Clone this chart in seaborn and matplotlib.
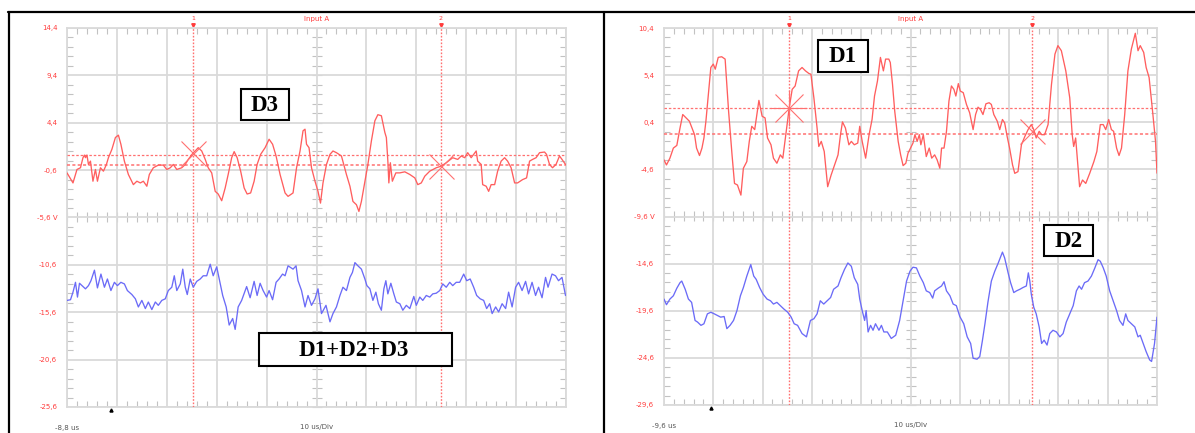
import numpy as np
import matplotlib
matplotlib.use("Agg")
import matplotlib.pyplot as plt
import matplotlib.transforms as mtrans
import seaborn as sns
import pandas as pd
from matplotlib.patches import Rectangle
from matplotlib.lines import Line2D
from matplotlib.ticker import FixedLocator

# ---------------- data (time in us, voltage in V) ----------------
d3_trace = [(-8.8,-0.89),(-7.6,-1.95),(-6.8,-0.53),(-6.1,-0.35),(-5.6,0.71),(-5.3,0.99),(-5.1,0.71),(-4.8,0.99),
    (-4.5,0.0),(-4.1,0.35),(-3.6,-1.77),(-3.1,-0.53),(-2.7,-1.77),(-2.1,-0.35),(-1.5,-0.71),(-0.9,0.0),(-0.5,0.71),
    (0.2,1.6),(0.9,2.84),(1.5,3.09),(2.0,2.13),(2.7,0.35),(3.5,-1.06),(4.5,-2.13),(5.2,-1.77),(5.9,-1.95),(6.5,-1.77),
    (7.2,-2.3),(7.7,-1.06),(8.5,-0.35),(9.5,-0.07),(10.5,-0.07),(11.2,-0.53),(11.9,-0.35),(12.5,0.0),(13.2,-0.53),
    (14.2,-0.35),(14.9,0.0),(15.5,0.53),(16.5,1.24),(16.9,1.42),(17.5,1.77),(18.2,1.42),(18.9,0.53),(19.5,-0.35),
    (20.2,-0.89),(20.9,-2.84),(21.5,-3.12),(22.2,-3.83),(22.9,-2.48),(23.5,-1.06),(24.2,0.71),(24.7,1.35),(25.3,0.71),
    (26.0,-0.71),(26.7,-2.48),(27.3,-3.12),(28.0,-3.01),(28.7,-1.77),(29.3,0.0),(30.0,1.06),(30.9,1.77),(31.7,2.66),
    (32.4,2.13),(33.1,0.89),(33.9,-1.06),(34.9,-3.01),(35.5,-3.37),(36.5,-3.01),(37.2,-0.35),(37.9,1.42),(38.5,3.55),
    (38.9,3.72),(39.2,2.13),(39.7,1.77),(40.2,-0.35),(40.9,-1.77),(41.5,-2.84),(42.0,-4.08),(42.5,-1.95),(43.2,0.0),
    (43.9,1.06),(44.5,1.42),(45.2,1.24),(46.2,0.89),(47.2,-1.06),(47.9,-2.3),(48.5,-3.9),(49.2,-4.25),(49.7,-4.96),
    (50.2,-3.9),(50.9,-1.77),(51.5,0.0),(52.2,2.48),(52.9,4.61),(53.5,5.25),(54.2,5.14),(54.9,3.37),(55.2,2.84),
    (55.5,0.35),(55.7,-1.95),(56.0,0.18),(56.4,-1.77),(57.1,-0.89),(57.9,-0.89),(58.9,-0.78),(59.9,-1.06),(60.9,-1.42),
    (61.5,-2.13),(62.2,-1.95),(62.9,-1.24),(63.9,-0.71),(65.2,-0.35),(66.2,-0.18),(67.2,0.18),(68.5,0.71),(69.5,0.53),
    (70.2,0.89),(70.9,0.71),(71.5,1.24),(72.2,0.71),(72.7,1.06),(73.2,1.42),(73.5,0.35),(74.2,0.0),(74.5,-2.13),
    (75.2,-2.3),(75.7,-2.84),(76.2,-2.13),(76.9,-2.13),(77.5,-0.71),(78.2,0.35),(78.9,0.71),(79.5,0.35),(80.2,-0.35),
    (80.9,-1.95),(81.5,-1.95),(82.5,-1.6),(83.3,-1.42),(83.9,0.35),(84.5,0.53),(85.2,0.71),(85.9,1.24),(86.9,1.31),
    (87.3,1.06),(87.9,0.0),(88.5,-0.35),(89.2,0.0),(89.9,0.89),(90.4,0.53),(91.1,0.0)]

sum_trace = [(-8.8,-14.35),(-8.1,-14.28),(-7.6,-13.48),(-7.1,-12.44),(-6.7,-14.0),(-6.3,-12.54),(-5.8,-12.79),
    (-5.1,-13.13),(-4.5,-12.79),(-4.0,-12.27),(-3.3,-11.16),(-2.7,-13.03),(-2.0,-11.57),(-1.3,-12.96),(-0.7,-12.09),
    (0.0,-13.31),(0.7,-12.44),(1.3,-12.79),(2.0,-12.44),(2.7,-12.61),(3.3,-13.31),(4.2,-13.73),(4.9,-14.18),(5.5,-15.04),
    (6.2,-14.35),(6.9,-15.21),(7.5,-14.52),(8.2,-15.32),(8.9,-14.52),(9.5,-14.87),(10.2,-14.35),(10.9,-14.18),
    (11.5,-13.31),(12.2,-12.96),(12.7,-11.75),(13.2,-13.31),(13.9,-12.61),(14.4,-11.05),(14.9,-12.96),(15.3,-13.73),
    (15.9,-12.09),(16.5,-12.96),(17.2,-12.34),(17.9,-12.09),(18.5,-11.75),(19.2,-11.75),(19.9,-10.53),(20.5,-11.75),
    (21.2,-10.81),(21.7,-12.09),(22.4,-13.83),(23.1,-15.04),(23.7,-16.95),(24.4,-16.26),(24.9,-17.41),(25.5,-15.04),
    (26.2,-14.35),(27.2,-12.89),(27.9,-14.07),(28.7,-12.34),(29.3,-13.83),(29.9,-12.54),(30.5,-13.31),(31.2,-14.0),
    (31.7,-13.31),(32.4,-14.28),(33.1,-12.44),(33.7,-12.09),(34.4,-11.57),(34.9,-11.75),(35.5,-10.7),(36.5,-11.05),
    (37.1,-10.7),(37.5,-12.27),(38.2,-13.31),(38.9,-15.04),(39.5,-13.83),(40.2,-14.87),(40.9,-14.18),(41.5,-13.13),
    (42.2,-15.74),(43.1,-14.87),(43.9,-16.61),(44.5,-15.74),(45.2,-15.04),(45.9,-13.83),(46.5,-12.96),(47.2,-13.31),
    (47.9,-11.92),(48.4,-11.4),(48.9,-10.36),(49.5,-10.7),(50.2,-11.05),(50.9,-12.09),(51.3,-12.79),(51.9,-13.13),
    (52.5,-14.35),(53.1,-13.48),(53.6,-14.7),(54.2,-15.39),(54.7,-13.13),(55.1,-12.27),(55.5,-13.66),(56.1,-12.54),
    (56.7,-13.66),(57.2,-14.52),(57.9,-14.7),(58.5,-15.39),(59.2,-14.87),(59.9,-15.21),(60.7,-13.93),(61.2,-14.87),
    (61.9,-14.0),(62.5,-14.35),(63.2,-13.83),(63.9,-14.0),(64.5,-13.66),(65.2,-13.59),(65.9,-13.31),(66.5,-12.61),
    (67.2,-12.96),(67.9,-12.44),(68.5,-12.79),(69.2,-12.44),(69.9,-12.44),(70.7,-11.57),(71.3,-12.27),(72.0,-12.09),
    (72.7,-12.96),(73.3,-13.83),(74.0,-14.18),(74.7,-14.35),(75.3,-15.21),(75.9,-14.7),(76.4,-15.74),(77.1,-15.04),
    (77.7,-15.57),(78.4,-14.7),(79.1,-15.21),(79.7,-13.48),(80.4,-15.04),(81.1,-12.96),(81.7,-12.44),(82.4,-13.31),
    (83.1,-12.34),(83.7,-13.66),(84.4,-12.44),(85.1,-13.83),(85.7,-12.96),(86.4,-14.07),(87.1,-11.92),(87.6,-12.96),
    (88.4,-11.57),(89.1,-11.75),(89.7,-12.27),(90.4,-11.92),(91.1,-13.83)]

d1_trace = [(-9.6,-3.59),(-9.1,-4.13),(-8.4,-3.41),(-7.7,-2.34),(-7.0,-2.06),(-6.35,-0.21),(-5.8,1.22),(-5.1,0.86),
    (-4.45,0.51),(-3.8,-0.38),(-3.4,-0.92),(-3.0,-2.34),(-2.4,-3.13),(-1.9,-2.34),(-1.5,-1.27),(-1.1,0.51),(-0.6,3.36),
    (-0.1,6.21),(0.4,6.57),(0.8,6.03),(1.4,7.28),(2.1,7.35),(2.8,7.1),(3.5,1.58),(4.2,-3.06),(4.7,-6.09),(5.3,-6.26),
    (6.0,-7.33),(6.5,-4.48),(7.2,-3.77),(7.7,-1.63),(8.2,-0.03),(8.8,-0.38),(9.25,1.22),(9.65,2.72),(10.3,1.04),
    (10.9,0.86),(11.4,-1.27),(12.1,-1.99),(12.6,-3.41),(13.3,-3.95),(14.0,-3.06),(14.5,-3.41),(15.1,-0.92),(15.8,1.93),
    (16.4,3.89),(17.0,4.25),(17.7,5.85),(18.4,6.21),(19.1,5.85),(19.8,5.57),(20.2,5.5),(20.8,3.0),(21.45,-0.21),
    (21.8,-2.17),(22.3,-1.63),(22.9,-2.7),(23.6,-6.44),(24.3,-5.2),(25.0,-4.13),(25.7,-3.06),(26.2,-0.92),(26.6,0.44),
    (27.2,-0.21),(27.9,-1.99),(28.4,-1.63),(29.0,-1.99),(29.7,-1.81),(30.1,-0.03),(30.6,-1.63),(31.3,-3.41),(32.0,-0.92),
    (32.6,0.69),(33.1,3.18),(33.7,4.78),(34.3,7.28),(34.9,5.85),(35.35,7.1),(36.0,7.1),(36.3,6.74),(36.75,4.43),
    (37.2,1.58),(37.9,-1.63),(38.4,-3.06),(38.9,-4.2),(39.45,-3.95),(39.9,-2.88),(40.4,-2.34),(40.9,-1.81),(41.3,-0.92),
    (41.75,-1.63),(42.2,-0.92),(42.5,-1.99),(43.0,-0.92),(43.6,-3.24),(44.2,-2.34),(44.7,-3.41),(45.3,-3.06),
    (45.8,-3.59),(46.35,-4.48),(46.7,-2.34),(47.2,-2.34),(47.7,-0.56),(48.2,2.65),(48.7,4.25),(49.2,3.89),(49.6,3.18),
    (50.1,4.5),(50.5,3.71),(51.1,3.54),(51.75,2.29),(52.4,1.4),(53.1,-0.38),(53.6,1.22),(54.1,2.0),(54.6,1.75),
    (55.1,1.22),(55.7,2.36),(56.35,2.47),(56.8,2.29),(57.3,1.22),(58.0,0.51),(58.5,-0.38),(59.05,0.69),(59.5,0.33),
    (60.0,-1.1),(60.5,-2.34),(61.1,-4.13),(61.55,-5.02),(62.2,-4.84),(62.9,-1.99),(63.6,-1.1),(64.25,-0.38),(64.9,0.15),
    (65.4,-0.38),(65.9,-1.27),(66.5,-0.56),(67.0,-0.92),(67.6,-0.92),(68.3,0.15),(69.0,4.43),(69.7,7.63),(70.3,8.53),
    (71.0,7.99),(71.9,5.85),(72.7,3.0),(73.2,-0.92),(73.5,-2.17),(73.9,-1.27),(74.4,-4.48),(74.7,-6.44),(75.3,-5.73),
    (75.95,-6.09),(76.75,-5.02),(77.6,-3.77),(78.2,-2.7),(78.9,0.15),(79.5,0.15),(80.0,-0.38),(80.6,0.69),(81.15,-0.38),
    (81.6,-0.56),(82.2,-2.34),(82.7,-3.13),(83.2,-2.34),(83.85,1.22),(84.5,5.85),(85.2,8.17),(86.0,9.84),(86.55,7.99),
    (87.0,8.53),(87.7,7.81),(88.2,6.21),(88.8,5.14),(89.5,1.58),(90.1,-1.63),(90.4,-5.0)]

d2_trace = [(-9.6,-18.36),(-9.1,-18.96),(-8.4,-18.36),(-7.7,-18.01),(-7.0,-17.21),(-6.35,-16.62),(-6.0,-16.45),
    (-5.3,-17.32),(-4.65,-18.36),(-4.0,-18.71),(-3.3,-20.63),(-2.8,-20.8),(-2.1,-21.15),(-1.5,-20.98),(-0.8,-19.93),
    (-0.1,-19.76),(0.6,-19.93),(1.25,-20.11),(1.9,-20.28),(2.6,-20.21),(3.15,-21.5),(3.8,-21.15),(4.5,-20.63),
    (5.2,-19.58),(5.9,-18.01),(6.5,-17.14),(7.2,-15.92),(8.0,-14.7),(8.6,-15.92),(9.1,-16.27),(9.8,-17.14),(10.5,-17.84),
    (11.3,-18.36),(12.0,-18.54),(12.6,-18.89),(13.3,-18.71),(14.0,-19.06),(14.7,-19.41),(15.5,-19.76),(16.2,-20.28),
    (16.8,-20.98),(17.5,-21.15),(18.4,-22.02),(19.3,-22.37),(20.1,-20.63),(20.8,-20.45),(21.45,-19.93),(22.1,-18.54),
    (22.8,-18.89),(23.5,-18.54),(24.2,-18.19),(24.8,-17.32),(25.7,-16.97),(26.3,-16.1),(27.0,-15.23),(27.7,-14.53),
    (28.4,-14.88),(29.0,-16.1),(29.7,-16.8),(30.1,-18.36),(30.6,-19.58),(31.1,-20.63),(31.4,-19.58),(31.8,-21.85),
    (32.3,-21.15),(32.8,-21.67),(33.3,-20.98),(34.0,-21.67),(34.5,-21.15),(35.0,-21.85),(35.7,-21.85),(36.5,-22.54),
    (37.4,-22.2),(38.2,-20.63),(38.9,-18.54),(39.6,-16.45),(40.3,-15.4),(40.9,-14.98),(41.6,-15.05),(42.3,-15.92),
    (43.0,-16.62),(43.6,-17.49),(44.3,-17.67),(44.9,-18.26),(45.3,-17.49),(46.0,-17.21),(46.7,-16.97),(47.2,-16.52),
    (47.7,-17.49),(48.4,-18.01),(49.05,-18.89),(49.7,-19.06),(50.4,-20.21),(51.2,-20.98),(51.9,-22.37),(52.6,-23.07),
    (53.1,-24.64),(53.9,-24.74),(54.45,-24.46),(55.0,-22.72),(55.5,-20.98),(56.1,-18.71),(56.8,-16.45),(57.5,-15.4),
    (58.2,-14.53),(59.05,-13.38),(59.5,-14.0),(60.2,-15.58),(60.7,-16.62),(61.35,-17.67),(61.9,-17.49),(62.6,-17.32),
    (63.2,-17.14),(63.9,-16.97),(64.3,-15.58),(64.6,-16.45),(64.9,-17.84),(65.4,-19.23),(65.9,-19.93),(66.5,-21.32),
    (67.0,-23.07),(67.5,-22.72),(68.1,-23.24),(68.65,-22.02),(69.3,-21.67),(70.0,-21.85),(70.7,-22.37),(71.35,-22.02),
    (72.0,-20.8),(72.7,-19.93),(73.4,-19.06),(74.05,-17.49),(74.6,-16.97),(75.1,-17.32),(75.7,-16.62),(76.4,-16.45),
    (77.1,-15.92),(77.8,-15.05),(78.45,-14.18),(78.9,-14.35),(79.5,-15.05),(80.1,-15.92),(80.8,-17.49),(81.5,-18.54),
    (82.2,-19.58),(82.8,-20.63),(83.5,-21.15),(84.05,-19.93),(84.5,-20.63),(85.2,-20.98),(85.9,-21.32),(86.55,-22.37),
    (87.0,-22.2),(87.6,-23.07),(88.2,-23.94),(88.9,-24.81),(89.3,-24.98),(89.9,-23.07),(90.4,-20.28)]

left_ytick_values = [14.4, 9.4, 4.4, -0.6, -5.6, -10.6, -15.6, -20.6, -25.6]
left_ytick_labels = ["14,4", "9,4", "4,4", "-0,6", "-5,6 V", "-10,6", "-15,6", "-20,6", "-25,6"]
right_ytick_values = [10.4, 5.4, 0.4, -4.6, -9.6, -14.6, -19.6, -24.6, -29.6]
right_ytick_labels = ["10,4", "5,4", "0,4", "-4,6", "-9,6 V", "-14,6", "-19,6", "-24,6", "-29,6"]

left_time_start, right_time_start = -8.8, -9.6
left_cursor_t = [16.5, 66.1]
left_cursor_v = [1.24, -0.18]
left_cursor_levels = [1.0, -0.1]
right_cursor_t = [15.8, 65.1]
right_cursor_v = [1.9, -0.55]
right_cursor_levels = [1.9, -0.88]
trigger_t = 0.0

# ---------------- styling ----------------
RED = "#ff5e5e"
BLUE = "#6b6bf7"
LBL_RED = "#ff3c3c"
CUR = "#ff7070"
GRID = "#dadada"
TICK = "#c2c2c2"

sns.set_style("white")
plt.rcParams['font.family'] = ['DejaVu Sans']

W, H = 1195, 433
fig = plt.figure(figsize=(W / 100, H / 100), dpi=100)

def fx(px):
    return px / W

def fy(py):
    return 1 - py / H

def axes_px(x0, y0, x1, y1):
    return fig.add_axes([fx(x0), fy(y1), (x1 - x0) / W, (y1 - y0) / H])


def panel(box, t0, yvals, ylabels, top_trace, bot_trace, cur_t, cur_v, cur_lv, start_label, star):
    ax = axes_px(*box)
    ytop = yvals[0]
    for tr, col in ((top_trace, RED), (bot_trace, BLUE)):
        df = pd.DataFrame(tr, columns=["t", "v"])
        sns.lineplot(data=df, x="t", y="v", ax=ax, color=col, lw=0.95,
                     estimator=None, sort=False, zorder=4)
    ax.set_xlabel("")
    ax.set_ylabel("")
    ax.set_xlim(t0, t0 + 100)
    ax.set_ylim(ytop - 40, ytop)
    ax.set_xticks(t0 + np.arange(0, 101, 10))
    ax.set_xticklabels([])
    ax.set_yticks(yvals, ylabels)
    ax.xaxis.set_minor_locator(FixedLocator(t0 + np.arange(0, 101, 2)))
    ax.yaxis.set_minor_locator(FixedLocator(ytop - np.arange(0, 41, 1)))
    ax.grid(True, which="major", color=GRID, lw=1.3, zorder=0)
    ax.set_axisbelow(True)
    ax.tick_params(which="major", length=0, labelsize=5, labelcolor=LBL_RED, pad=7)
    ax.tick_params(which="minor", direction="in", length=4, width=0.8, color=TICK,
                   top=True, right=True, bottom=True, left=True)
    for s in ax.spines.values():
        s.set_color(GRID)
        s.set_linewidth(1.3)
    # centre axes with ticks
    sx = ax.secondary_xaxis(0.5)
    sx.set_xticks([])
    sx.xaxis.set_minor_locator(FixedLocator(t0 + np.arange(0, 101, 2)))
    sx.tick_params(which="minor", direction="inout", length=7, width=0.8, color=TICK,
                   labeltop=False, labelbottom=False)
    for s in sx.spines.values():
        s.set_visible(False)
    sy = ax.secondary_yaxis(0.5)
    sy.set_yticks([])
    sy.yaxis.set_minor_locator(FixedLocator(ytop - np.arange(0, 41, 1)))
    sy.tick_params(which="minor", direction="inout", length=7, width=0.8, color=TICK,
                   labelleft=False, labelright=False)
    for s in sy.spines.values():
        s.set_visible(False)

    # cursors
    bt = mtrans.blended_transform_factory(ax.transData, ax.transAxes)
    for i, (t, v) in enumerate(zip(cur_t, cur_v)):
        ax.axvline(t, color=CUR, ls=(0, (1.2, 1.2)), lw=1.0, zorder=3)
        ax.text(t, 1.024, str(i + 1), transform=bt, ha="center", va="center",
                fontsize=4.5, color=LBL_RED)
        ax.plot([t], [1.008], transform=bt, marker="v", ms=2.5, color=LBL_RED, clip_on=False)
        if star and i == 0:
            ax.plot([t], [v], marker="x", ms=20, mew=0.8, color=CUR, zorder=5)
            ax.plot([t], [v], marker="+", ms=26, mew=0.8, color=CUR, zorder=5)
        else:
            ax.plot([t], [v], marker="x", ms=18, mew=0.8, color=CUR, zorder=5)
    for j, lv in enumerate(cur_lv):
        ax.axhline(lv, color=CUR, ls=(0, (2, 1.5)), lw=0.9 if j == 0 else 1.1, zorder=3)

    ax.text(0.5, 1.024, "Input A", transform=ax.transAxes, ha="center", va="center",
            fontsize=5, color=LBL_RED)
    ax.text(0.0, -0.055, start_label, transform=ax.transAxes, ha="center", va="center",
            fontsize=5, color="#555555")
    ax.text(0.5, -0.053, "10 us/Div", transform=ax.transAxes, ha="center", va="center",
            fontsize=5, color="#555555")
    ax.plot([trigger_t], [-0.008], transform=bt, marker="^", ms=2.2, color="black", clip_on=False)
    return ax


panel((67, 28, 566, 407), left_time_start, left_ytick_values, left_ytick_labels,
      d3_trace, sum_trace, left_cursor_t, left_cursor_v, left_cursor_levels, "-8,8 us", False)
panel((664, 28, 1157, 405), right_time_start, right_ytick_values, right_ytick_labels,
      d1_trace, d2_trace, right_cursor_t, right_cursor_v, right_cursor_levels, "-9,6 us", True)

# table borders
for xs, ys in (((8, 1195), (12, 12)), ((8.5, 8.5), (12, 433)), ((604, 604), (12, 433))):
    fig.add_artist(Line2D([fx(xs[0]), fx(xs[1])], [fy(ys[0]), fy(ys[1])],
                          transform=fig.transFigure, color="black", lw=1.6))

# labelled boxes
boxes = [("D3", 241, 89, 289, 120, 265), ("D1+D2+D3", 259, 333, 452, 366, 354),
         ("D1", 818, 40, 868, 72, 843), ("D2", 1044, 225, 1093, 256, 1068.5)]
for label, x0, y0, x1, y1, xc in boxes:
    fig.add_artist(Rectangle((fx(x0), fy(y1)), (x1 - x0) / W, (y1 - y0) / H,
                             transform=fig.transFigure, fc="white", ec="black", lw=1.5, zorder=5))
    fig.text(fx(xc), fy((y0 + y1) / 2 + 1), label, ha="center", va="center",
             family=["Liberation Serif", "DejaVu Serif"], weight="bold", fontsize=16.5,
             color="black", zorder=6)

fig.savefig("out.png", dpi=100)
